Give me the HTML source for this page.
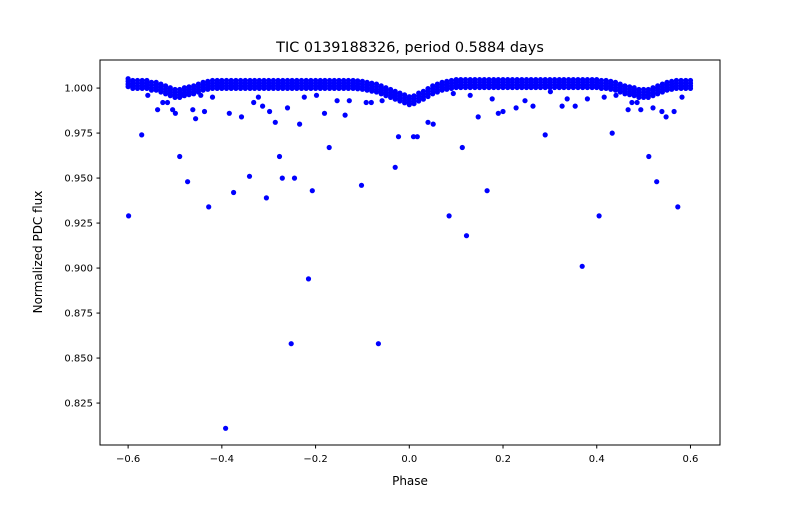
<!DOCTYPE html>
<html><head><meta charset="utf-8"><style>
body{margin:0;background:#fff;}
svg text{font-family:"DejaVu Sans","Liberation Sans",sans-serif;fill:#000;}
</style></head><body>
<svg id="chart" width="800" height="500" xmlns="http://www.w3.org/2000/svg">
<rect width="800" height="500" fill="#fff"/>
<text x="410" y="52" font-size="14.4" text-anchor="middle">TIC 0139188326, period 0.5884 days</text>
<g id="marks"></g>
<rect x="100" y="60" width="620" height="385" fill="none" stroke="#000" stroke-width="1"/>
<g id="xt"></g>
<g id="yt"></g>
<text x="410" y="485" font-size="12" text-anchor="middle">Phase</text>
<text transform="translate(42,252) rotate(-90)" font-size="12" text-anchor="middle">Normalized PDC flux</text>
</svg>
<script>
const xTicks=[-0.6,-0.4,-0.2,0.0,0.2,0.4,0.6];
const xTickLabels=["−0.6","−0.4","−0.2","0.0","0.2","0.4","0.6"];
const yTicks=[0.825,0.85,0.875,0.9,0.925,0.95,0.975,1.0];
const yTickLabels=["0.825","0.850","0.875","0.900","0.925","0.950","0.975","1.000"];
const baseStart=-0.6, baseStep=0.01;
const baseFlux=[1.003,1.002,1.002,1.002,1.002,
1.001,1.001,1.000,0.999,0.998,0.997,0.997,0.998,0.9985,0.999,1.000,1.001,1.0015,
1.002,1.002,1.002,1.002,1.002,1.002,1.002,1.002,1.002,1.002,1.002,1.002,1.002,1.002,1.002,1.002,1.002,1.002,1.002,1.002,1.002,1.002,1.002,1.002,1.002,1.002,1.002,1.002,1.002,1.002,1.002,
1.0018,1.0015,1.001,1.0005,1.000,0.999,0.998,0.997,0.996,0.995,0.994,0.993,0.9935,0.995,0.996,0.9975,0.999,1.000,1.001,1.0015,1.002,
1.0025,1.0025,1.0025,1.0025,1.0025,1.0025,1.0025,1.0025,1.0025,1.0025,1.0025,1.0025,1.0025,1.0025,1.0025,1.0025,1.0025,1.0025,1.0025,1.0025,1.0025,1.0025,1.0025,1.0025,1.0025,1.0025,1.0025,1.0025,1.0025,1.0025,1.0025,
1.002,1.002,1.0015,1.001,1.000,0.999,0.9985,0.998,0.997,0.997,0.997,0.998,0.999,1.000,1.001,1.0015,1.002,1.002,1.002,1.002];
const outPhase=[-0.599,-0.571,-0.558,-0.537,-0.526,-0.516,-0.505,-0.499,-0.490,-0.482,-0.473,-0.462,-0.456,-0.445,-0.437,-0.428,-0.420,-0.392,-0.384,-0.375,-0.358,-0.341,-0.332,-0.322,-0.313,-0.305,-0.298,-0.286,-0.277,-0.271,-0.260,-0.252,-0.245,-0.234,-0.224,-0.215,-0.207,-0.198,-0.181,-0.171,-0.154,-0.137,-0.128,-0.102,-0.092,-0.081,-0.066,-0.058,-0.030,-0.023,0.009,0.017,0.040,0.051,0.085,0.094,0.113,0.122,0.130,0.147,0.166,0.177,0.190,0.200,0.228,0.247,0.264,0.290,0.301,0.326,0.337,0.354,0.369,0.380,0.405,0.416,0.433,0.441,0.467,0.475,0.486,0.494,0.511,0.520,0.528,0.539,0.548,0.565,0.573,0.582];
const outFlux=[0.929,0.974,0.996,0.988,0.992,0.992,0.988,0.986,0.962,0.996,0.948,0.988,0.983,0.996,0.987,0.934,0.995,0.811,0.986,0.942,0.984,0.951,0.992,0.995,0.990,0.939,0.987,0.981,0.962,0.950,0.989,0.858,0.950,0.980,0.995,0.894,0.943,0.996,0.986,0.967,0.993,0.985,0.993,0.946,0.992,0.992,0.858,0.993,0.956,0.973,0.973,0.973,0.981,0.980,0.929,0.997,0.967,0.918,0.996,0.984,0.943,0.994,0.986,0.987,0.989,0.993,0.990,0.974,0.998,0.990,0.994,0.990,0.901,0.994,0.929,0.995,0.975,0.996,0.988,0.992,0.992,0.988,0.962,0.989,0.948,0.987,0.984,0.987,0.934,0.995];
const NS="http://www.w3.org/2000/svg";
const X0=100,X1=720,Y0=445,Y1=60,xmin=-0.66,xmax=0.663,ymin=0.8017,ymax=1.0156;
const sx=v=>X0+(v-xmin)/(xmax-xmin)*(X1-X0);
const sy=v=>Y0-(v-ymin)/(ymax-ymin)*(Y0-Y1);
const marks=document.getElementById('marks');
function dot(p,f){const c=document.createElementNS(NS,'circle');
c.setAttribute('cx',sx(p).toFixed(1));c.setAttribute('cy',sy(f).toFixed(1));c.setAttribute('r','2.6');c.setAttribute('fill','#0000ff');


marks.appendChild(c);}
baseFlux.forEach((f,i)=>{const p=baseStart+i*baseStep;dot(p,f+0.0022);dot(p,f+0.0007);dot(p,f-0.0008);dot(p,f-0.0022);});
outPhase.forEach((p,i)=>dot(p,outFlux[i]));
const xt=document.getElementById('xt');
xTicks.forEach((v,i)=>{const x=sx(v);
const l=document.createElementNS(NS,'line');l.setAttribute('x1',x);l.setAttribute('x2',x);l.setAttribute('y1',445);l.setAttribute('y2',448.5);l.setAttribute('stroke','#000');


xt.appendChild(l);
const t=document.createElementNS(NS,'text');t.setAttribute('x',x);t.setAttribute('y',462);t.setAttribute('font-size','10');t.setAttribute('text-anchor','middle');t.textContent=xTickLabels[i];


xt.appendChild(t);});
const yt=document.getElementById('yt');
yTicks.forEach((v,i)=>{const y=sy(v);
const l=document.createElementNS(NS,'line');l.setAttribute('x1',96.5);l.setAttribute('x2',100);l.setAttribute('y1',y);l.setAttribute('y2',y);l.setAttribute('stroke','#000');


yt.appendChild(l);
const t=document.createElementNS(NS,'text');t.setAttribute('x',93);t.setAttribute('y',y+3.5);t.setAttribute('font-size','10');t.setAttribute('text-anchor','end');t.textContent=yTickLabels[i];


yt.appendChild(t);});
</script>
</body></html>
